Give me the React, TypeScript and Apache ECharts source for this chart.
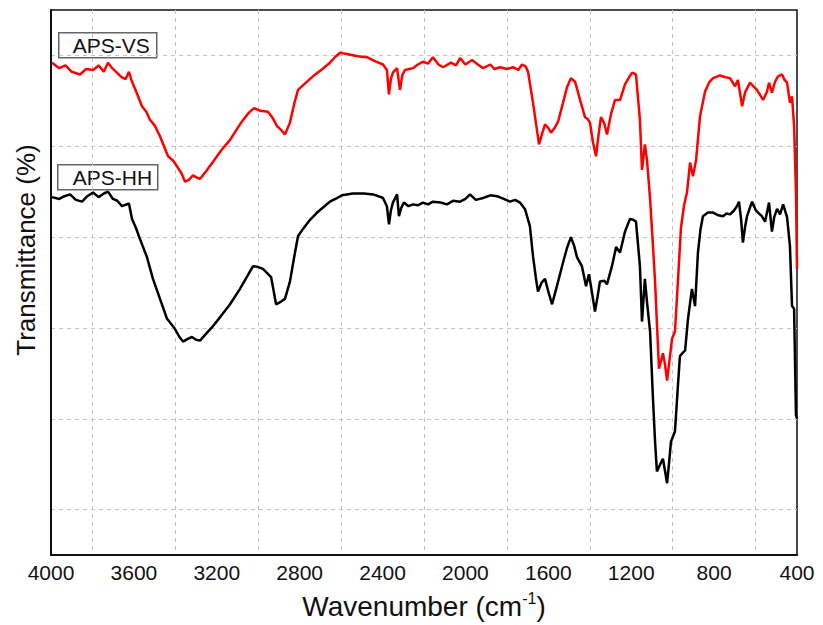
import React, { useEffect, useRef } from "react";
import * as echarts from "echarts";

const xTicks = [400, 800, 1200, 1600, 2000, 2400, 2800, 3200, 3600, 4000];
const seriesNames = ["APS-VS", "APS-HH"];

// APS-VS (red): [wavenumber, transmittance]
const apsVS: number[][] = [
  [3995, 54.2], [3960, 53.6], [3930, 53.9], [3900, 53.2], [3860, 52.9], [3830, 53.5], [3797, 53.4],
  [3770, 53.9], [3745, 53.2], [3725, 54.2], [3705, 53.6], [3682, 53.1], [3660, 52.6], [3640, 52.4],
  [3624, 53.2], [3609, 52.1], [3585, 50.8], [3561, 49.4], [3540, 48.8], [3522, 47.9], [3500, 47.3],
  [3474, 46.1], [3455, 45.0], [3435, 43.9], [3410, 43.4], [3392, 42.8], [3370, 42.0], [3353, 41.1],
  [3335, 41.3], [3315, 41.8], [3300, 41.6], [3281, 41.4], [3250, 42.3], [3218, 43.3], [3180, 44.5],
  [3136, 45.7], [3100, 47.0], [3073, 47.9], [3045, 48.7], [3020, 49.2], [2990, 48.9], [2953, 48.8],
  [2930, 48.1], [2909, 47.2], [2890, 46.8], [2871, 46.3], [2847, 47.6], [2825, 49.8], [2808, 51.2],
  [2770, 52.0], [2736, 52.7], [2690, 53.5], [2654, 54.2], [2630, 54.8], [2605, 55.3], [2560, 55.1],
  [2520, 54.9], [2475, 54.8], [2440, 54.4], [2398, 54.0], [2379, 53.4], [2369, 50.7], [2360, 52.4],
  [2350, 53.1], [2330, 53.6], [2316, 51.2], [2305, 52.8], [2292, 53.4], [2253, 53.6], [2230, 54.0],
  [2205, 54.3], [2180, 54.1], [2157, 54.8], [2130, 54.0], [2108, 53.7], [2070, 54.2], [2045, 53.9],
  [2026, 54.7], [2000, 54.0], [1968, 54.5], [1940, 54.0], [1915, 53.6], [1880, 54.0], [1860, 53.5],
  [1833, 53.7], [1800, 53.5], [1771, 53.7], [1745, 53.4], [1727, 54.0], [1710, 53.8], [1698, 53.2],
  [1674, 49.8], [1660, 47.6], [1645, 45.2], [1630, 46.4], [1616, 47.4], [1600, 47.0], [1587, 46.5],
  [1570, 47.0], [1553, 47.7], [1529, 49.8], [1510, 51.5], [1491, 52.5], [1471, 52.1], [1460, 51.2],
  [1447, 50.1], [1423, 48.2], [1410, 48.0], [1399, 47.6], [1385, 45.5], [1370, 43.9], [1358, 46.2],
  [1346, 48.2], [1330, 47.5], [1317, 46.3], [1298, 48.5], [1278, 50.1], [1254, 50.1], [1230, 51.8],
  [1210, 52.6], [1196, 53.1], [1177, 52.9], [1158, 47.9], [1148, 42.4], [1134, 45.2], [1124, 43.5],
  [1109, 39.2], [1095, 34.0], [1085, 30.1], [1075, 25.0], [1066, 20.5], [1055, 21.5], [1047, 22.2],
  [1037, 21.0], [1027, 19.2], [1015, 21.5], [1003, 23.8], [989, 24.6], [975, 30.0], [960, 36.0],
  [945, 38.5], [931, 39.9], [916, 43.2], [902, 41.7], [887, 43.5], [868, 48.3], [844, 51.0],
  [825, 52.0], [805, 52.5], [772, 52.8], [745, 52.6], [723, 52.5], [699, 51.6], [685, 52.3],
  [665, 49.4], [651, 50.9], [627, 52.0], [610, 51.6], [593, 51.2], [564, 50.1], [545, 51.0],
  [535, 52.0], [521, 50.9], [506, 52.1], [492, 52.7], [472, 52.9], [460, 52.3], [448, 52.0],
  [434, 49.8], [424, 50.5], [414, 47.2], [405, 39.9], [400, 31.5],
];

// APS-HH (black): [wavenumber, transmittance]
const apsHH: number[][] = [
  [3995, 39.4], [3960, 39.2], [3935, 39.5], [3908, 39.7], [3880, 39.1], [3850, 38.9], [3825, 39.5],
  [3797, 39.9], [3770, 39.4], [3745, 39.8], [3725, 40.0], [3701, 39.2], [3680, 39.0], [3657, 38.4],
  [3624, 38.7], [3609, 37.0], [3590, 36.0], [3571, 34.8], [3537, 32.8], [3508, 30.4], [3474, 28.2],
  [3440, 26.0], [3402, 24.9], [3380, 24.0], [3363, 23.5], [3340, 23.8], [3320, 24.0], [3300, 23.7],
  [3281, 23.6], [3250, 24.4], [3218, 25.2], [3180, 26.3], [3136, 27.6], [3088, 29.3], [3050, 30.8],
  [3025, 31.8], [3000, 31.7], [2977, 31.5], [2938, 30.6], [2925, 29.0], [2914, 27.6], [2890, 27.9],
  [2871, 28.2], [2847, 30.1], [2825, 33.0], [2808, 35.1], [2784, 35.9], [2750, 36.9], [2716, 37.7],
  [2680, 38.4], [2654, 38.9], [2620, 39.3], [2596, 39.6], [2543, 39.8], [2490, 39.8], [2446, 39.7],
  [2420, 39.5], [2398, 39.3], [2379, 38.4], [2369, 36.4], [2360, 37.9], [2350, 38.8], [2330, 39.7],
  [2321, 37.3], [2310, 38.2], [2297, 38.8], [2275, 38.4], [2253, 38.6], [2230, 38.5], [2205, 38.8],
  [2180, 38.6], [2157, 38.9], [2120, 38.8], [2089, 38.6], [2060, 39.0], [2026, 38.9], [2000, 39.2],
  [1978, 39.7], [1950, 39.1], [1915, 39.3], [1880, 39.6], [1848, 39.5], [1815, 39.2], [1785, 38.9],
  [1760, 39.1], [1737, 38.8], [1713, 38.1], [1689, 36.2], [1674, 32.9], [1660, 30.5], [1650, 29.0],
  [1632, 30.0], [1616, 30.4], [1600, 29.0], [1582, 27.6], [1568, 28.8], [1553, 30.1], [1529, 32.2],
  [1510, 33.8], [1491, 35.0], [1475, 34.0], [1462, 32.8], [1438, 31.8], [1418, 29.6], [1404, 30.9],
  [1390, 29.0], [1375, 26.8], [1362, 28.5], [1351, 30.1], [1330, 30.2], [1317, 29.8], [1293, 31.8],
  [1273, 33.9], [1254, 33.3], [1230, 35.6], [1206, 37.0], [1190, 36.9], [1177, 36.7], [1158, 31.8],
  [1148, 25.7], [1134, 30.4], [1124, 27.9], [1109, 24.6], [1095, 17.2], [1085, 12.5], [1076, 9.2],
  [1060, 10.0], [1047, 10.6], [1035, 9.0], [1027, 7.9], [1018, 10.0], [1008, 12.5], [989, 13.6],
  [975, 18.5], [965, 21.9], [950, 22.3], [940, 22.5], [926, 26.0], [907, 29.3], [892, 27.4],
  [878, 33.3], [866, 35.8], [854, 37.3], [830, 37.7], [805, 37.7], [780, 37.4], [757, 37.3],
  [740, 37.6], [723, 37.5], [705, 37.9], [690, 38.4], [680, 38.9], [670, 37.0], [661, 34.4],
  [650, 36.2], [641, 37.3], [617, 38.9], [600, 38.0], [588, 37.7], [570, 37.3], [554, 36.7],
  [535, 38.8], [521, 35.6], [510, 37.2], [496, 38.1], [482, 37.5], [467, 38.6], [448, 37.2],
  [434, 34.0], [424, 27.4], [414, 27.1], [405, 15.4], [400, 15.0],
];

export default function App() {
  const ref = useRef<HTMLDivElement>(null);
  useEffect(() => {
    if (!ref.current) return;
    const chart = echarts.init(ref.current, undefined, { renderer: "svg" });
    const font = "'Liberation Sans', Arial, sans-serif";
    const gridLine = { show: true, lineStyle: { color: "#c4c4c4", type: [4, 4] as any, width: 1 } };
    chart.setOption({
      animation: false,
      backgroundColor: "#ffffff",
      grid: { left: 51, right: 26, top: 10, bottom: 68, show: true, borderColor: "#111", borderWidth: 1.5 },
      xAxis: {
        type: "value",
        inverse: true,
        min: 400,
        max: 4000,
        interval: 400,
        axisLine: { show: true, lineStyle: { color: "#111", width: 2 } },
        axisTick: { show: false },
        axisLabel: {
          fontFamily: font,
          fontSize: 21,
          color: "#111",
          margin: 7,
          formatter: (v: number) => (xTicks.includes(v) ? String(v) : ""),
        },
        splitLine: { show: false },
        minorTick: { show: false, splitNumber: 2 },
        minorSplitLine: gridLine,
        name: "{a|Wavenumber (cm}{s|-1}{a|)}",
        nameLocation: "middle",
        nameGap: 35,
        nameTextStyle: {
          rich: {
            a: { fontFamily: font, fontSize: 28, color: "#111", verticalAlign: "bottom", lineHeight: 30 },
            s: { fontFamily: font, fontSize: 16, color: "#111", verticalAlign: "top", lineHeight: 30, padding: [0, 0, 14, 0] },
          },
        },
      },
      yAxis: {
        type: "value",
        min: 0,
        max: 60,
        interval: 10,
        axisLine: { show: true, lineStyle: { color: "#111", width: 2 } },
        axisTick: { show: false },
        axisLabel: { show: false },
        splitLine: { show: false },
        minorTick: { show: false, splitNumber: 2 },
        minorSplitLine: gridLine,
      },
      series: [
        {
          name: seriesNames[1],
          type: "line",
          data: apsHH,
          showSymbol: false,
          symbol: "none",
          lineStyle: { color: "#000000", width: 2.5 },
          z: 2,
        },
        {
          name: seriesNames[0],
          type: "line",
          data: apsVS,
          showSymbol: false,
          symbol: "none",
          lineStyle: { color: "#ff0000", width: 2.5 },
          z: 3,
        },
      ],
      graphic: [
        {
          type: "text",
          x: 26,
          y: 250,
          rotation: Math.PI / 2,
          style: {
            text: "Transmittance (%)",
            fontFamily: font,
            fontSize: 26,
            fill: "#111",
            align: "center",
            verticalAlign: "middle",
          },
        },
        {
          type: "group",
          left: 58,
          top: 32,
          children: [
            { type: "rect", shape: { x: 0, y: 0, width: 98, height: 25 }, style: { fill: "#fff", stroke: "#666", lineWidth: 1.5 } },
            { type: "text", x: 14, y: 13, style: { text: seriesNames[0], fontFamily: font, fontSize: 21, fill: "#111", verticalAlign: "middle" } },
          ],
          z: 10,
        },
        {
          type: "group",
          left: 57,
          top: 164,
          children: [
            { type: "rect", shape: { x: 0, y: 0, width: 100, height: 25 }, style: { fill: "#fff", stroke: "#666", lineWidth: 1.5 } },
            { type: "text", x: 15, y: 13, style: { text: seriesNames[1], fontFamily: font, fontSize: 21, fill: "#111", verticalAlign: "middle" } },
          ],
          z: 10,
        },
      ],
    });
    return () => chart.dispose();
  }, []);
  return <div ref={ref} style={{ width: 823, height: 625, position: "absolute", left: 0, top: 0 }} />;
}
